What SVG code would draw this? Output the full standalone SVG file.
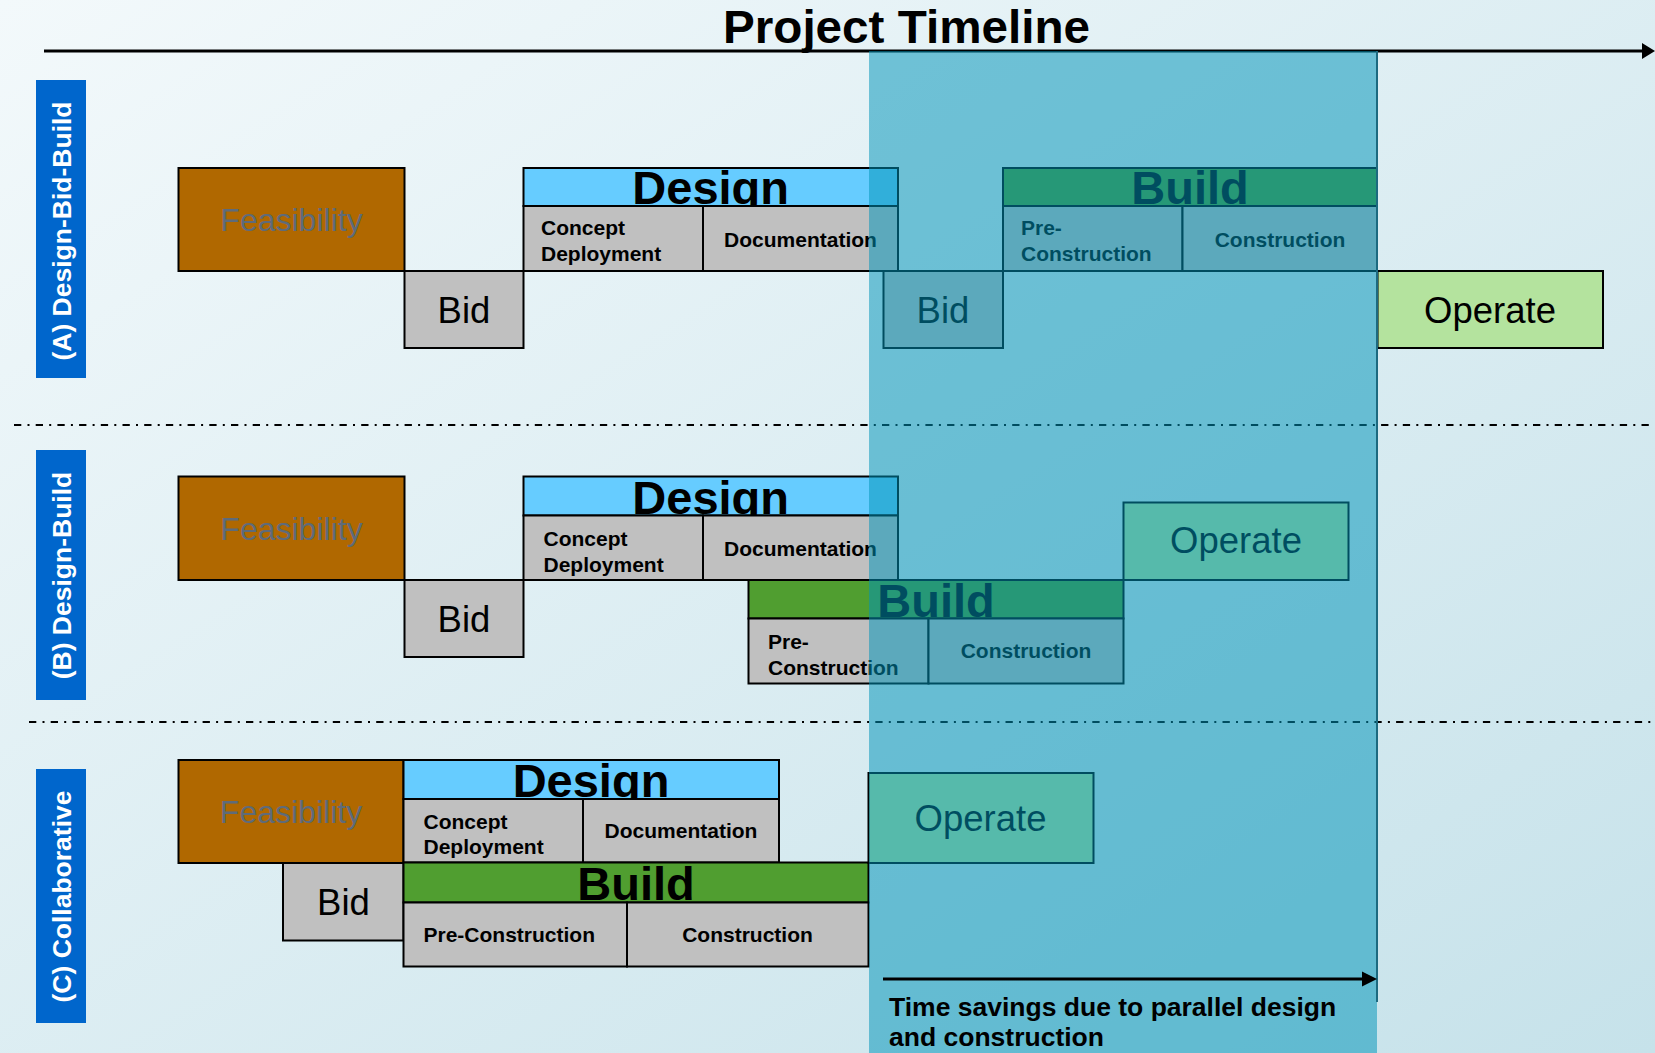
<svg xmlns="http://www.w3.org/2000/svg" width="1655" height="1053" viewBox="0 0 1655 1053">
<defs>
<linearGradient id="bg" x1="0" y1="0" x2="1" y2="1">
<stop offset="0" stop-color="#F3F9FB"/>
<stop offset="1" stop-color="#C6E2EA"/>
</linearGradient>
</defs>
<style>
text{font-family:"Liberation Sans",Arial,sans-serif}
.box{stroke:#000;stroke-width:2}
.feas{fill:#B06800}
.gray{fill:#C0C0C0}
.dsg{fill:#66CCFF}
.bld{fill:#509E30}
.op{fill:#B4E39E}
.lblbox{fill:#0066CC}
.ft{font-size:32px;fill:#5E6B7A;text-anchor:middle}
.big{font-size:36.5px;fill:#000;text-anchor:middle}
.hdr{font-size:47px;font-weight:bold;fill:#000;text-anchor:middle}
.sub{font-size:21px;font-weight:bold;fill:#000}
.mid{text-anchor:middle}
.lbl{font-size:26.5px;font-weight:bold;fill:#fff;text-anchor:middle}
.sep{stroke:#000;stroke-width:2;stroke-dasharray:7.3 6.2 2 6.2;fill:none}
.note{font-size:26.5px;font-weight:bold;fill:#000}
</style>
<rect x="0" y="0" width="1655" height="1053" fill="url(#bg)"/>
<text x="906.5" y="43" font-size="47" font-weight="bold" text-anchor="middle" textLength="367" lengthAdjust="spacingAndGlyphs" font-family="Liberation Sans, Arial, sans-serif">Project Timeline</text>
<g id="separators">
<line class="sep" x1="14" y1="425" x2="1655" y2="425"/>
<line class="sep" x1="29" y1="722" x2="1655" y2="722"/>
</g>
<g id="timeline">
<line x1="44" y1="51" x2="1645" y2="51" stroke="#000" stroke-width="3"/>
<polygon points="1642,43 1655,51 1642,59" fill="#000"/>
</g>
<g id="label-a">
<rect class="lblbox" x="36" y="80" width="50" height="298"/>
<text class="lbl" transform="translate(71,231) rotate(-90)">(A) Design-Bid-Build</text>
</g>
<g id="label-b">
<rect class="lblbox" x="36" y="450" width="50" height="250"/>
<text class="lbl" transform="translate(71,575.5) rotate(-90)">(B) Design-Build</text>
</g>
<g id="label-c">
<rect class="lblbox" x="36" y="769" width="50" height="254"/>
<text class="lbl" transform="translate(71,896.5) rotate(-90)">(C) Collaborative</text>
</g>
<g id="a-feasibility">
<rect class="box feas" x="178.5" y="168" width="226" height="103"/>
<text class="ft" x="291.5" y="231">Feasibility</text>
</g>
<g id="a-bid">
<rect class="box gray" x="404.5" y="271" width="119" height="77"/>
<text class="big" x="464" y="323">Bid</text>
</g>
<g id="a-design">
<rect class="box dsg" x="523.5" y="168" width="374.5" height="38"/>
<text class="hdr" x="710.7" y="204">Design</text>
<rect class="box gray" x="523.5" y="206" width="179.5" height="65"/>
<rect class="box gray" x="703" y="206" width="195" height="65"/>
<text class="sub" x="541" y="235">Concept</text>
<text class="sub" x="541" y="260.5">Deployment</text>
<text class="sub mid" x="800.5" y="246.5">Documentation</text>
</g>
<g id="a-bid2">
<rect class="box gray" x="883.5" y="271" width="119.5" height="77"/>
<text class="big" x="943" y="323">Bid</text>
</g>
<g id="a-build">
<rect class="box bld" x="1003" y="168" width="374" height="38"/>
<text class="hdr" x="1190" y="204">Build</text>
<rect class="box gray" x="1003" y="206" width="179.5" height="65"/>
<rect class="box gray" x="1182.5" y="206" width="194.5" height="65"/>
<text class="sub" x="1021" y="235">Pre-</text>
<text class="sub" x="1021" y="260.5">Construction</text>
<text class="sub mid" x="1280" y="246.5">Construction</text>
</g>
<g id="a-operate">
<rect class="box op" x="1377.5" y="271" width="225.5" height="77"/>
<text class="big" x="1490" y="323">Operate</text>
</g>
<g id="b-feasibility">
<rect class="box feas" x="178.5" y="476.5" width="226" height="103.5"/>
<text class="ft" x="291.5" y="540">Feasibility</text>
</g>
<g id="b-bid">
<rect class="box gray" x="404.5" y="580" width="119" height="77"/>
<text class="big" x="464" y="632">Bid</text>
</g>
<g id="b-design">
<rect class="box dsg" x="523.5" y="476.5" width="374.5" height="39"/>
<text class="hdr" x="710.7" y="514">Design</text>
<rect class="box gray" x="523.5" y="515.5" width="179.5" height="64.5"/>
<rect class="box gray" x="703" y="515.5" width="195" height="64.5"/>
<text class="sub" x="543.5" y="546">Concept</text>
<text class="sub" x="543.5" y="571.5">Deployment</text>
<text class="sub mid" x="800.5" y="556">Documentation</text>
</g>
<g id="b-build">
<rect class="box bld" x="748.5" y="580" width="375" height="38.5"/>
<text class="hdr" x="936" y="617">Build</text>
<rect class="box gray" x="748.5" y="618.5" width="180" height="65"/>
<rect class="box gray" x="928.5" y="618.5" width="195" height="65"/>
<text class="sub" x="768" y="649">Pre-</text>
<text class="sub" x="768" y="675">Construction</text>
<text class="sub mid" x="1026" y="658">Construction</text>
</g>
<g id="b-operate">
<rect class="box op" x="1123.5" y="502.5" width="225" height="77.5"/>
<text class="big" x="1236" y="553">Operate</text>
</g>
<g id="c-feasibility">
<rect class="box feas" x="178.5" y="760" width="225" height="103"/>
<text class="ft" x="291" y="823">Feasibility</text>
</g>
<g id="c-design">
<rect class="box dsg" x="403.5" y="760" width="375.5" height="39"/>
<text class="hdr" x="591" y="797">Design</text>
<rect class="box gray" x="403.5" y="799" width="179.5" height="63.5"/>
<rect class="box gray" x="583" y="799" width="196" height="63.5"/>
<text class="sub" x="423.5" y="829">Concept</text>
<text class="sub" x="423.5" y="854">Deployment</text>
<text class="sub mid" x="681" y="838">Documentation</text>
</g>
<g id="c-bid">
<rect class="box gray" x="283" y="863" width="120.5" height="77.5"/>
<text class="big" x="343.5" y="915">Bid</text>
</g>
<g id="c-build">
<rect class="box bld" x="403.5" y="862.5" width="465" height="40"/>
<text class="hdr" x="636" y="900">Build</text>
<rect class="box gray" x="403.5" y="902.5" width="223.5" height="64"/>
<rect class="box gray" x="627" y="902.5" width="241.5" height="64"/>
<text class="sub" x="423.5" y="941.5">Pre-Construction</text>
<text class="sub mid" x="747.5" y="941.5">Construction</text>
</g>
<g id="c-operate">
<rect class="box op" x="868.5" y="773" width="225" height="90"/>
<text class="big" x="980.5" y="830.5">Operate</text>
</g>
<g id="time-savings-band">
<rect x="869" y="51" width="508" height="1002" fill="#0094B9" fill-opacity="0.52"/>
<line x1="1377" y1="51" x2="1377" y2="1002" stroke="#1D6A80" stroke-width="2"/>
</g>
<g id="connectors">
<line x1="883" y1="979" x2="1363" y2="979" stroke="#000" stroke-width="3"/>
<polygon points="1362,971.5 1377,979 1362,986.5" fill="#000"/>
</g>
<g id="savings-note">
<text class="note" x="889" y="1016">Time savings due to parallel design</text>
<text class="note" x="889" y="1046">and construction</text>
</g>
</svg>
